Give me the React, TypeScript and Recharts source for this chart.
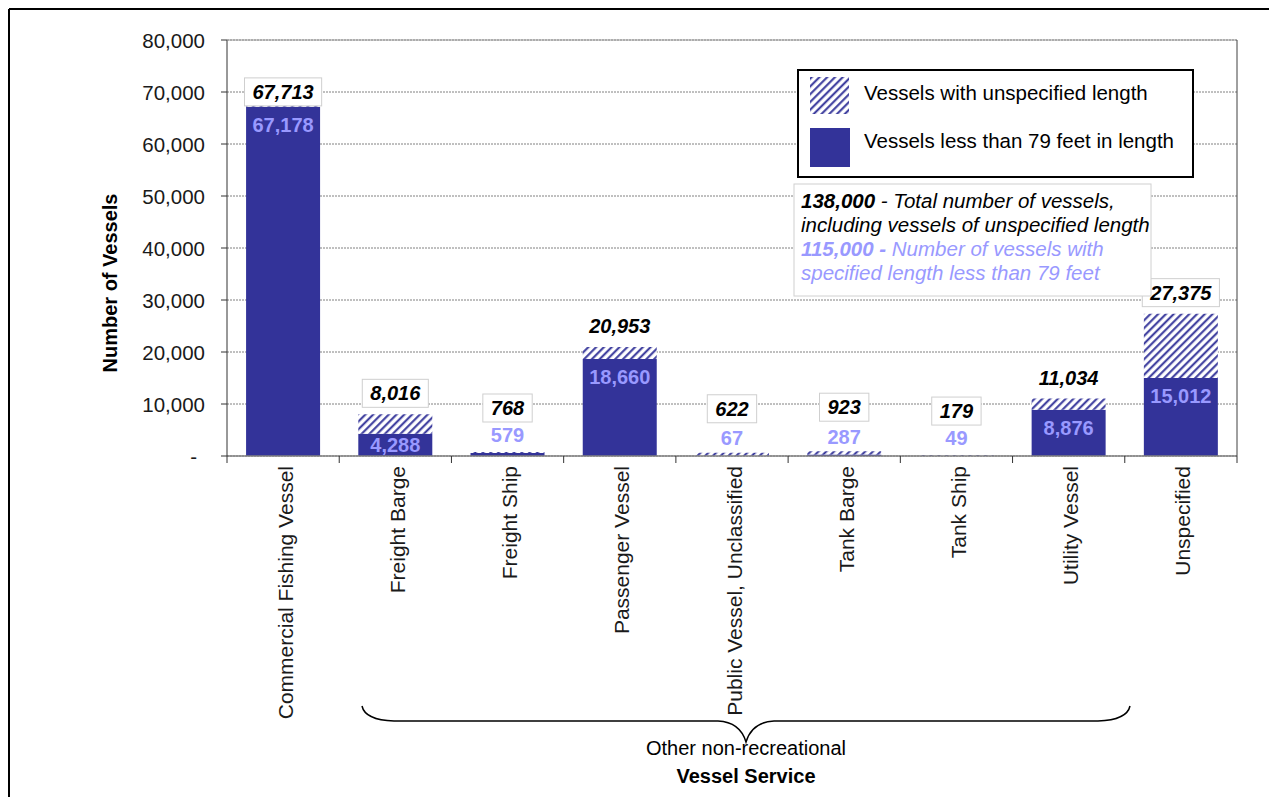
import React from "react";
import { BarChart, Bar, XAxis, YAxis, CartesianGrid, LabelList } from "recharts";

const categories = [
  "Commercial Fishing Vessel",
  "Freight Barge",
  "Freight Ship",
  "Passenger Vessel",
  "Public Vessel, Unclassified",
  "Tank Barge",
  "Tank Ship",
  "Utility Vessel",
  "Unspecified",
];
const specified = [67178, 4288, 579, 18660, 67, 287, 49, 8876, 15012];
const totals = [67713, 8016, 768, 20953, 622, 923, 179, 11034, 27375];
const yTicks = [0, 10000, 20000, 30000, 40000, 50000, 60000, 70000, 80000];

const data = categories.map((name, i) => ({
  name,
  specified: specified[i],
  unspecified: totals[i] - specified[i],
  total: totals[i],
}));

const FONT = '"Liberation Sans", Arial, sans-serif';
const NAVY = "#333399";
const LIGHT = "#9999FF";
const W = 1269;
const H = 789;
const PLOT_TOP = 32;
const PLOT_BOTTOM = 448;
const PLOT_LEFT = 219;
const PLOT_RIGHT = 1229;
const GRID_STEP = (PLOT_BOTTOM - PLOT_TOP) / 8;

const fmt = (v: number) => v.toLocaleString("en-US");

const textWidth = (s: string, fs: number) => {
  let w = 0;
  for (const ch of s) w += ch === "," ? 0.278 : 0.556;
  return w * fs;
};

const YTick = (props: any) => {
  const { x, y, payload } = props;
  const v = payload.value as number;
  return (
    <text
      x={v === 0 ? x - 8 : x}
      y={y}
      textAnchor="end"
      dominantBaseline="central"
      fontFamily={FONT}
      fontSize={20.5}
      fill="#1a1a1a"
    >
      {v === 0 ? "-" : fmt(v)}
    </text>
  );
};

const XTick = (props: any) => {
  const { x, y, payload, index } = props;
  const off = payload && payload.offset ? payload.offset : (PLOT_RIGHT - PLOT_LEFT) / categories.length / 2;
  const isLast = index === categories.length - 1 || payload.value === categories[categories.length - 1];
  const ty = y + 10;
  return (
    <g>
      <line x1={x - off} y1={y} x2={x - off} y2={y + 7} stroke="#333" strokeWidth={1} />
      {isLast && <line x1={x + off} y1={y} x2={x + off} y2={y + 7} stroke="#333" strokeWidth={1} />}
      <text
        x={x + 2}
        y={ty}
        transform={`rotate(-90, ${x + 2}, ${ty})`}
        textAnchor="end"
        dominantBaseline="central"
        fontFamily={FONT}
        fontSize={21}
        fill="#1a1a1a"
      >
        {payload.value}
      </text>
    </g>
  );
};

const TotalLabel = (props: any) => {
  const { x, y, width, value } = props;
  const v = Number(value);
  const small = v < 3000;
  const cx = x + width / 2;
  let cy = small ? y - 44 : y - 21;
  if (cy < PLOT_TOP + 52) cy = y - 12;
  const s = fmt(v);
  const fs = 20;
  const tw = textWidth(s, fs);
  const bw = tw + 16;
  const bh = 28;
  let nearGrid = false;
  for (let k = 0; k <= 8; k++) {
    if (Math.abs(cy - (PLOT_TOP + k * GRID_STEP)) < 15) nearGrid = true;
  }
  return (
    <g>
      {nearGrid && (
        <rect x={cx - bw / 2} y={cy - bh / 2} width={bw} height={bh} fill="#fff" stroke="#cfcfcf" strokeWidth={1} />
      )}
      <text
        x={cx}
        y={cy}
        textAnchor="middle"
        dominantBaseline="central"
        fontFamily={FONT}
        fontSize={fs}
        fontWeight="bold"
        fontStyle="italic"
        fill="#000"
      >
        {s}
      </text>
    </g>
  );
};

const SpecLabel = (props: any) => {
  const { x, y, width, height, value } = props;
  const v = Number(value);
  const small = v < 3000;
  const cx = x + width / 2;
  const cy = small ? y - 18 : Math.min(y + 18, y + height / 2);
  return (
    <text
      x={cx}
      y={cy}
      textAnchor="middle"
      dominantBaseline="central"
      fontFamily={FONT}
      fontSize={20}
      fontWeight="bold"
      fill={LIGHT}
    >
      {fmt(v)}
    </text>
  );
};

export default function App() {
  return (
    <div style={{ position: "relative", width: W, height: H, background: "#fff" }}>
      <svg width={0} height={0} style={{ position: "absolute" }}>
        <defs>
          <pattern id="hatch" patternUnits="userSpaceOnUse" width={5.5} height={5.5} patternTransform="rotate(45)">
            <rect x={0} y={0} width={5.5} height={5.5} fill="#fff" />
            <line x1={1.2} y1={0} x2={1.2} y2={5.5} stroke={NAVY} strokeWidth={2} />
          </pattern>
        </defs>
      </svg>
      <div style={{ position: "absolute", left: 0, top: 0 }}>
        <BarChart
          width={W}
          height={H}
          data={data}
          margin={{ top: PLOT_TOP, right: W - PLOT_RIGHT, left: 0, bottom: 41 }}
          barCategoryGap="17%"
        >
          <CartesianGrid vertical={false} stroke="#808080" strokeDasharray="2 1" />
          <XAxis
            dataKey="name"
            height={300}
            interval={0}
            tickSize={0}
            tickMargin={0}
            tickLine={false}
            axisLine={{ stroke: "#808080", strokeWidth: 1.5 }}
            tick={<XTick />}
          />
          <YAxis
            width={PLOT_LEFT}
            domain={[0, 80000]}
            ticks={yTicks}
            interval={0}
            tickSize={6}
            tickMargin={16}
            axisLine={{ stroke: "#333" }}
            tickLine={{ stroke: "#333" }}
            tick={<YTick />}
          />
          <Bar dataKey="specified" stackId="a" fill={NAVY} isAnimationActive={false}>
            <LabelList dataKey="specified" content={SpecLabel} />
          </Bar>
          <Bar dataKey="unspecified" stackId="a" fill="url(#hatch)" isAnimationActive={false}>
            <LabelList dataKey="total" content={TotalLabel} />
          </Bar>
        </BarChart>
      </div>
      <svg
        width={W}
        height={H}
        style={{ position: "absolute", left: 0, top: 0, pointerEvents: "none" }}
      >
        <line x1={1} y1={1} x2={W} y2={1} stroke="#000" strokeWidth={2} />
        <line x1={1} y1={1} x2={1} y2={H} stroke="#000" strokeWidth={2} />
        <line x1={PLOT_LEFT} y1={PLOT_TOP} x2={PLOT_RIGHT} y2={PLOT_TOP} stroke="#9a9a9a" strokeWidth={1} />
        <line x1={PLOT_RIGHT} y1={PLOT_TOP} x2={PLOT_RIGHT} y2={PLOT_BOTTOM} stroke="#404040" strokeWidth={1} />
        <text
          x={102}
          y={275}
          transform="rotate(-90, 102, 275)"
          textAnchor="middle"
          dominantBaseline="central"
          fontFamily={FONT}
          fontSize={20}
          fontWeight="bold"
          fill="#000"
        >
          Number of Vessels
        </text>
        <rect x={790} y={62} width={395} height={107} fill="#fff" stroke="#000" strokeWidth={2} />
        <rect x={802} y={69} width={39} height={37} fill="url(#hatch)" />
        <rect x={802} y={120} width={40} height={39} fill={NAVY} />
        <text x={856} y={84} dominantBaseline="central" fontFamily={FONT} fontSize={20.5} fill="#000">
          Vessels with unspecified length
        </text>
        <text x={856} y={132} dominantBaseline="central" fontFamily={FONT} fontSize={20.5} fill="#000">
          Vessels less than 79 feet in length
        </text>
        <rect x={786} y={176} width={357} height={112} fill="#fff" stroke="#d0d0d0" strokeWidth={1} />
        <g fontFamily={FONT} fontSize={20.5} fontStyle="italic">
          <text x={793} y={192} dominantBaseline="central" fill="#000">
            <tspan fontWeight="bold">138,000</tspan>
            <tspan> - Total number of vessels,</tspan>
          </text>
          <text x={793} y={216} dominantBaseline="central" fill="#000">
            including vessels of unspecified length
          </text>
          <text x={793} y={240} dominantBaseline="central" fill={LIGHT}>
            <tspan fontWeight="bold">115,000 -</tspan>
            <tspan> Number of vessels with</tspan>
          </text>
          <text x={793} y={264} dominantBaseline="central" fill={LIGHT}>
            specified length less than 79 feet
          </text>
        </g>
        <path
          d="M354,698 Q357,712 386,713 L710,713 Q732,714 738,734 Q744,714 766,713 L1090,713 Q1119,712 1122,698"
          fill="none"
          stroke="#000"
          strokeWidth={1.5}
        />
        <text x={738} y={740} textAnchor="middle" dominantBaseline="central" fontFamily={FONT} fontSize={20} fill="#000">
          Other non-recreational
        </text>
        <text
          x={738}
          y={768}
          textAnchor="middle"
          dominantBaseline="central"
          fontFamily={FONT}
          fontSize={20}
          fontWeight="bold"
          fill="#000"
        >
          Vessel Service
        </text>
      </svg>
    </div>
  );
}
